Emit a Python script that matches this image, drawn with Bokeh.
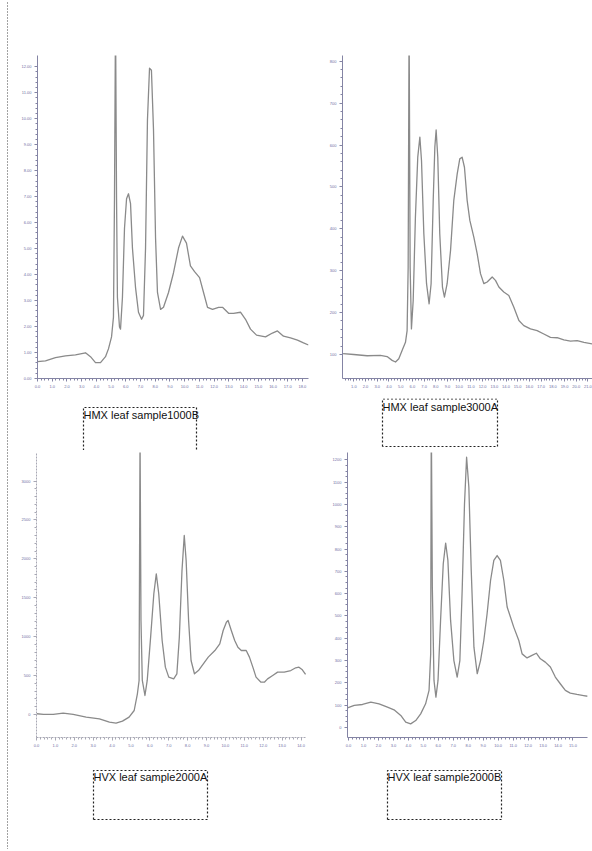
from bokeh.plotting import figure
from bokeh.layouts import row, column
from bokeh.models import Range1d, FixedTicker, NumeralTickFormatter
from bokeh.embed import file_html
from bokeh.resources import INLINE
from bokeh.core.properties import value

# ---------------- data ----------------
# Panel 1: HMX leaf sample1000B
hmx1000b_time = [0.00, 0.54, 1.22, 1.90, 2.58, 3.26, 3.60, 3.94, 4.28, 4.62, 4.82, 5.03, 5.16,
                 5.23, 5.30, 5.37, 5.43, 5.57, 5.64, 5.77, 5.91, 6.05, 6.18, 6.32, 6.45, 6.66,
                 6.86, 7.07, 7.20, 7.34, 7.47, 7.61, 7.74, 7.88, 8.02, 8.15, 8.36, 8.56, 8.90,
                 9.24, 9.58, 9.85, 10.12, 10.39, 10.67, 11.01, 11.28, 11.55, 11.89, 12.30, 12.57,
                 12.98, 13.32, 13.79, 14.13, 14.47, 14.88, 15.49, 15.96, 16.30, 16.71, 17.19,
                 17.66, 18.07, 18.41]
hmx1000b_signal = [0.65, 0.68, 0.80, 0.87, 0.91, 0.99, 0.84, 0.61, 0.61, 0.84, 1.14, 1.60, 2.36,
                   6.92, 14.0, 6.92, 3.12, 1.98, 1.90, 3.12, 5.78, 6.92, 7.11, 6.73, 5.02, 3.50,
                   2.55, 2.28, 2.43, 5.02, 9.96, 11.94, 11.86, 9.58, 5.40, 3.31, 2.66, 2.74, 3.31,
                   4.07, 5.02, 5.48, 5.21, 4.33, 4.11, 3.88, 3.31, 2.74, 2.66, 2.74, 2.74,
                   2.51, 2.51, 2.55, 2.28, 1.90, 1.67, 1.60, 1.75, 1.83, 1.63, 1.56,
                   1.48, 1.37, 1.29]

# Panel 2: HMX leaf sample3000A
hmx3000a_time = [0.08, 0.99, 2.13, 3.27, 3.84, 4.27, 4.56, 4.84, 5.13, 5.41, 5.55, 5.64, 5.72,
                 5.81, 5.92, 6.07, 6.26, 6.46, 6.64, 6.78, 6.98, 7.21, 7.43, 7.60, 7.78, 7.92,
                 8.03, 8.17, 8.34, 8.57, 8.74, 8.97, 9.26, 9.54, 9.83, 10.05, 10.25, 10.45,
                 10.68, 10.91, 11.25, 11.54, 11.82, 12.11, 12.39, 12.82, 13.10, 13.39, 13.81,
                 14.24, 14.67, 15.10, 15.52, 16.09, 16.66, 17.23, 17.80, 18.37, 18.94, 19.51,
                 20.08, 20.66, 21.40]
hmx3000a_signal = [102, 100, 97, 98, 95, 86, 82, 90, 110, 129, 157, 308, 900,
                   308, 161, 229, 428, 571, 619, 563, 388, 269, 221, 269, 468, 595,
                   636, 571, 388, 261, 237, 269, 348, 468, 531, 567, 571, 547,
                   468, 420, 380, 340, 293, 269, 273, 285, 277, 261, 249,
                   241, 213, 181, 169, 161, 157, 149, 141, 140, 135, 132,
                   133, 129, 125]

# Panel 3: HVX leaf sample2000A
hvx2000a_time = [0.02, 0.37, 0.89, 1.41, 1.94, 2.63, 3.33, 3.86, 4.21, 4.55, 4.90, 5.17, 5.34,
                 5.43, 5.48, 5.53, 5.60, 5.74, 5.86, 6.04, 6.21, 6.34, 6.47, 6.65, 6.82, 7.00,
                 7.26, 7.43, 7.56, 7.70, 7.82, 7.92, 8.05, 8.18, 8.36, 8.57, 8.83, 9.09, 9.44,
                 9.70, 9.88, 10.05, 10.14, 10.31, 10.49, 10.66, 10.84, 11.10, 11.27, 11.45,
                 11.62, 11.88, 12.06, 12.23, 12.50, 12.76, 13.11, 13.46, 13.72, 13.89, 14.07,
                 14.24]
hvx2000a_signal = [9, 0, 0, 17, 0, -34, -56, -99, -111, -86, -34, 51, 266,
                   437, 3600, 1208, 437, 244, 437, 994, 1551, 1808, 1551, 951, 608, 480,
                   458, 523, 994, 1850, 2300, 1979, 1208, 694, 523, 565, 651, 737, 822,
                   908, 1079, 1186, 1208, 1079, 951, 865, 822, 822, 737, 608,
                   480, 415, 415, 458, 501, 544, 544, 565, 600, 608, 574,
                   514]

# Panel 4: HVX leaf sample2000B
hvx2000b_time = [-0.07, 0.38, 0.93, 1.49, 2.04, 2.60, 3.04, 3.49, 3.82, 4.15, 4.49, 4.82, 5.15,
                 5.38, 5.49, 5.53, 5.60, 5.71, 5.84, 5.98, 6.15, 6.33, 6.49, 6.64, 6.82, 7.04,
                 7.26, 7.44, 7.60, 7.75, 7.89, 8.04, 8.20, 8.38, 8.60, 8.82, 9.04, 9.26, 9.49,
                 9.71, 9.93, 10.15, 10.38, 10.60, 10.82, 11.04, 11.38, 11.60, 11.93, 12.26,
                 12.55, 12.82, 13.15, 13.49, 13.82, 14.15, 14.49, 14.82, 15.26, 15.71, 15.98]
hvx2000b_signal = [88, 99, 103, 114, 106, 91, 79, 54, 24, 16, 31, 61, 106,
                   166, 330, 1400, 629, 211, 136, 211, 480, 734, 827, 749, 480, 300,
                   226, 300, 629, 1003, 1212, 1078, 704, 360, 241, 300, 390, 510, 659,
                   749, 771, 749, 659, 540, 495, 450, 390, 330, 312, 323,
                   333, 308, 293, 271, 226, 196, 166, 154, 148, 143, 140]

captions = ["HMX leaf sample1000B", "HMX leaf sample3000A",
            "HVX leaf sample2000A", "HVX leaf sample2000B"]

# tick positions
p1_xticks = list(range(0, 19)); p1_yticks = list(range(0, 13))
p2_xticks = list(range(0, 22)); p2_yticks = [100, 200, 300, 400, 500, 600, 700, 800]
p3_xticks = list(range(0, 15)); p3_yticks = [0, 500, 1000, 1500, 2000, 2500, 3000]
p4_xticks = list(range(0, 16)); p4_yticks = [0, 100, 200, 300, 400, 500, 600, 700, 800, 900, 1000, 1100, 1200]

CAP_FONT = value("Liberation Sans")


def frange(a, b, s):
    out = []
    v = a
    while v <= b + 1e-9:
        out.append(round(v, 4))
        v += s
    return out


def chart(w, h, borders, xr, yr, xticks, xminor, yticks, yminor, xfmt, yfmt, xs, ys,
          axis_color="#8484a4", dash=None):
    l, r, t, b = borders
    p = figure(width=w, height=h, output_backend="svg", toolbar_location=None,
               x_range=Range1d(*xr), y_range=Range1d(*yr),
               min_border_left=l, min_border_right=r, min_border_top=t, min_border_bottom=b)
    p.xgrid.visible = False
    p.ygrid.visible = False
    p.outline_line_color = None
    p.background_fill_color = "white"
    p.border_fill_color = "white"
    p.line(xs, ys, line_color="#8a8a8a", line_width=1.3, line_join="round")
    p.xaxis.ticker = FixedTicker(ticks=xticks, minor_ticks=frange(xticks[0], xticks[-1], xminor))
    p.yaxis.ticker = FixedTicker(ticks=yticks, minor_ticks=frange(yticks[0], yticks[-1], yminor))
    p.xaxis.formatter = NumeralTickFormatter(format=xfmt)
    p.yaxis.formatter = NumeralTickFormatter(format=yfmt)
    for ax in (p.xaxis[0], p.yaxis[0]):
        ax.axis_line_color = axis_color
        ax.axis_line_width = 1
        ax.major_tick_line_color = axis_color
        ax.minor_tick_line_color = axis_color
        ax.major_tick_out = 3
        ax.major_tick_in = 0
        ax.minor_tick_out = 2
        ax.minor_tick_in = 0
        ax.major_label_text_font_size = "4px"
        ax.major_label_text_color = "#6e6ea4"
        ax.major_label_standoff = 3
        if dash:
            ax.axis_line_dash = dash
    return p


def caption(w, h, text, tx, ty, bx, by):
    p = figure(width=w, height=h, output_backend="svg", toolbar_location=None,
               x_range=Range1d(0, w), y_range=Range1d(0, h),
               x_axis_location=None, y_axis_location=None,
               min_border=0)
    p.xgrid.visible = False
    p.ygrid.visible = False
    p.outline_line_color = None
    p.line(bx, by, line_color="#222222", line_width=1.2, line_dash="2 2")
    p.text(x=[tx], y=[ty], text=[text], text_font=CAP_FONT, text_font_size="11px",
           text_baseline="top", text_align="left", text_color="#111111")
    return p


# top row charts (page origin at 0,0)
p1 = chart(304, 398, (19, 14, 55, 16), (0, 18.41), (0, 12.43), p1_xticks, 0.25, p1_yticks, 0.2,
           "0.0", "0.00", hmx1000b_time, hmx1000b_signal)
p2 = chart(270, 398, (20, 0, 55, 20), (0.03, 21.39), (42.7, 813.7), p2_xticks, 0.25, p2_yticks, 20,
           "0.0", "0", hmx3000a_time, hmx3000a_signal)
# bottom row charts
p3 = chart(304, 310, (15, 16, 2, 23), (0, 14.29), (-296, 3367), p3_xticks, 0.2, p3_yticks, 100,
           "0.0", "0", hvx2000a_time, hvx2000a_signal, axis_color="#a8a8b4", dash="2 1")
p4 = chart(270, 310, (25, 5, 2, 23), (-0.07, 15.97), (-45, 1233), p4_xticks, 0.25, p4_yticks, 25,
           "0.0", "0", hvx2000b_time, hvx2000b_signal)

# caption boxes
c1 = caption(304, 52, captions[0], 65, 42, [65, 65, 178, 178], [0, 43, 43, 0])
c2 = caption(270, 52, captions[1], 60, 50, [60, 60, 175, 175, 60], [4, 51.5, 51.5, 4, 4])
c3 = caption(304, 89, captions[2], 75, 79, [75, 75, 189, 189, 75], [30, 79, 79, 30, 30])
c4 = caption(270, 89, captions[3], 65, 79, [65, 65, 179, 179, 65], [30, 79, 79, 30, 30])

# left dotted page border
strip = figure(width=18, height=849, output_backend="svg", toolbar_location=None,
               x_range=Range1d(0, 18), y_range=Range1d(0, 849),
               x_axis_location=None, y_axis_location=None, min_border=0)
strip.xgrid.visible = False
strip.ygrid.visible = False
strip.outline_line_color = None
strip.line([7, 7], [0, 849], line_color="#444444", line_width=1, line_dash="1 2")

layout = row(strip, column(row(p1, p2), row(c1, c2), row(p3, p4), row(c3, c4)))

open("out.html", "w").write(file_html(layout, INLINE))
